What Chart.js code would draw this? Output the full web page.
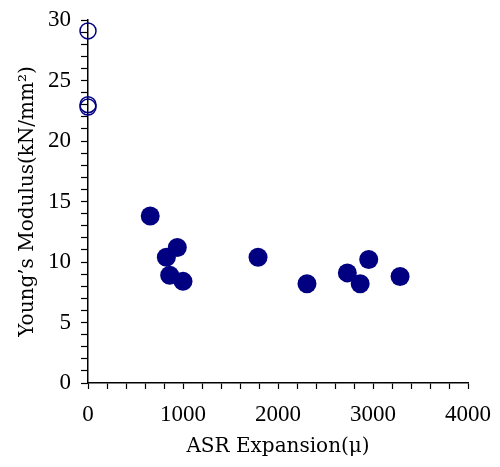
<!DOCTYPE html>
<html>
<head>
<meta charset="utf-8">
<script src="https://cdn.jsdelivr.net/npm/chart.js@4"></script>
<style>
  html, body { margin: 0; padding: 0; background: #fff; }
  #wrap { width: 500px; height: 467px; }
</style>
</head>
<body>
<div id="wrap"><canvas id="myChart"></canvas></div>
<script>
// sound specimens (expansion 0), open circles
const soundX = [0, 0, 0];
const soundY = [29.1, 23.0, 22.8];
// ASR damaged specimens, filled circles
const asrX = [655, 940, 825, 860, 1000, 1790, 2305, 2730, 2865, 2955, 3285];
const asrY = [13.8, 11.2, 10.4, 8.9, 8.4, 10.4, 8.2, 9.1, 8.2, 10.2, 8.8];

const xTitle = 'ASR Expansion(\u03bc)';
const yTitle = 'Young\u2019s Modulus(kN/mm\u00b2)';

const navy = '#000080';
const fontNum = { family: '"Liberation Serif", "DejaVu Serif", serif', size: 23 };
const fontTitle = { family: '"DejaVu Serif", "Liberation Serif", serif', size: 20 };

const toPts = (xs, ys) => xs.map((x, i) => ({ x: x, y: ys[i] }));

const ctx = document.getElementById('myChart').getContext('2d');
const myChart = new Chart(ctx, {
    type: 'scatter',
    data: {
        datasets: [{
            label: 'sound',
            data: toPts(soundX, soundY),
            clip: false,
            pointRadius: 8,
            pointBorderWidth: 1.5,
            pointBorderColor: navy,
            pointBackgroundColor: 'rgba(255,255,255,0)'
        }, {
            label: 'ASR',
            data: toPts(asrX, asrY),
            clip: false,
            pointRadius: 9.5,
            pointBorderWidth: 0,
            pointBorderColor: navy,
            pointBackgroundColor: navy
        }]
    },
    options: {
        responsive: true,
        maintainAspectRatio: false,
        animation: false,
        layout: { padding: { top: 20, right: 32, left: 0, bottom: 0 } },
        plugins: { legend: { display: false }, tooltip: { enabled: false } },
        scales: {
            x: {
                type: 'linear',
                min: 0, max: 4000,
                afterFit: function (scale) {
                    scale.height = 84;
                    scale.paddingLeft = 0;
                    scale.paddingRight = 0;
                },
                border: { color: '#000', width: 1.5 },
                grid: { drawOnChartArea: false, color: '#000', tickLength: 6, tickWidth: 1.2 },
                ticks: {
                    stepSize: 200, autoSkip: false, maxRotation: 0, padding: 12,
                    color: '#000', font: fontNum,
                    callback: v => (v % 1000 === 0 ? String(v) : '')
                },
                title: { display: true, text: xTitle, color: '#000', font: fontTitle, padding: { top: 4, bottom: 8 } }
            },
            y: {
                type: 'linear',
                min: 0, max: 30,
                afterFit: function (scale) {
                    scale.width = 88;
                    scale.paddingTop = 0;
                    scale.paddingBottom = 0;
                },
                border: { color: '#000', width: 1.5 },
                grid: { drawOnChartArea: false, color: '#000', tickLength: 7, tickWidth: 1.2 },
                ticks: {
                    stepSize: 1, autoSkip: false, padding: 10,
                    color: '#000', font: fontNum,
                    callback: v => (v % 5 === 0 ? String(v) : '')
                },
                title: { display: true, text: yTitle, color: '#000', font: fontTitle, padding: { top: 16, bottom: 4 } }
            }
        }
    }
});
</script>
</body>
</html>
